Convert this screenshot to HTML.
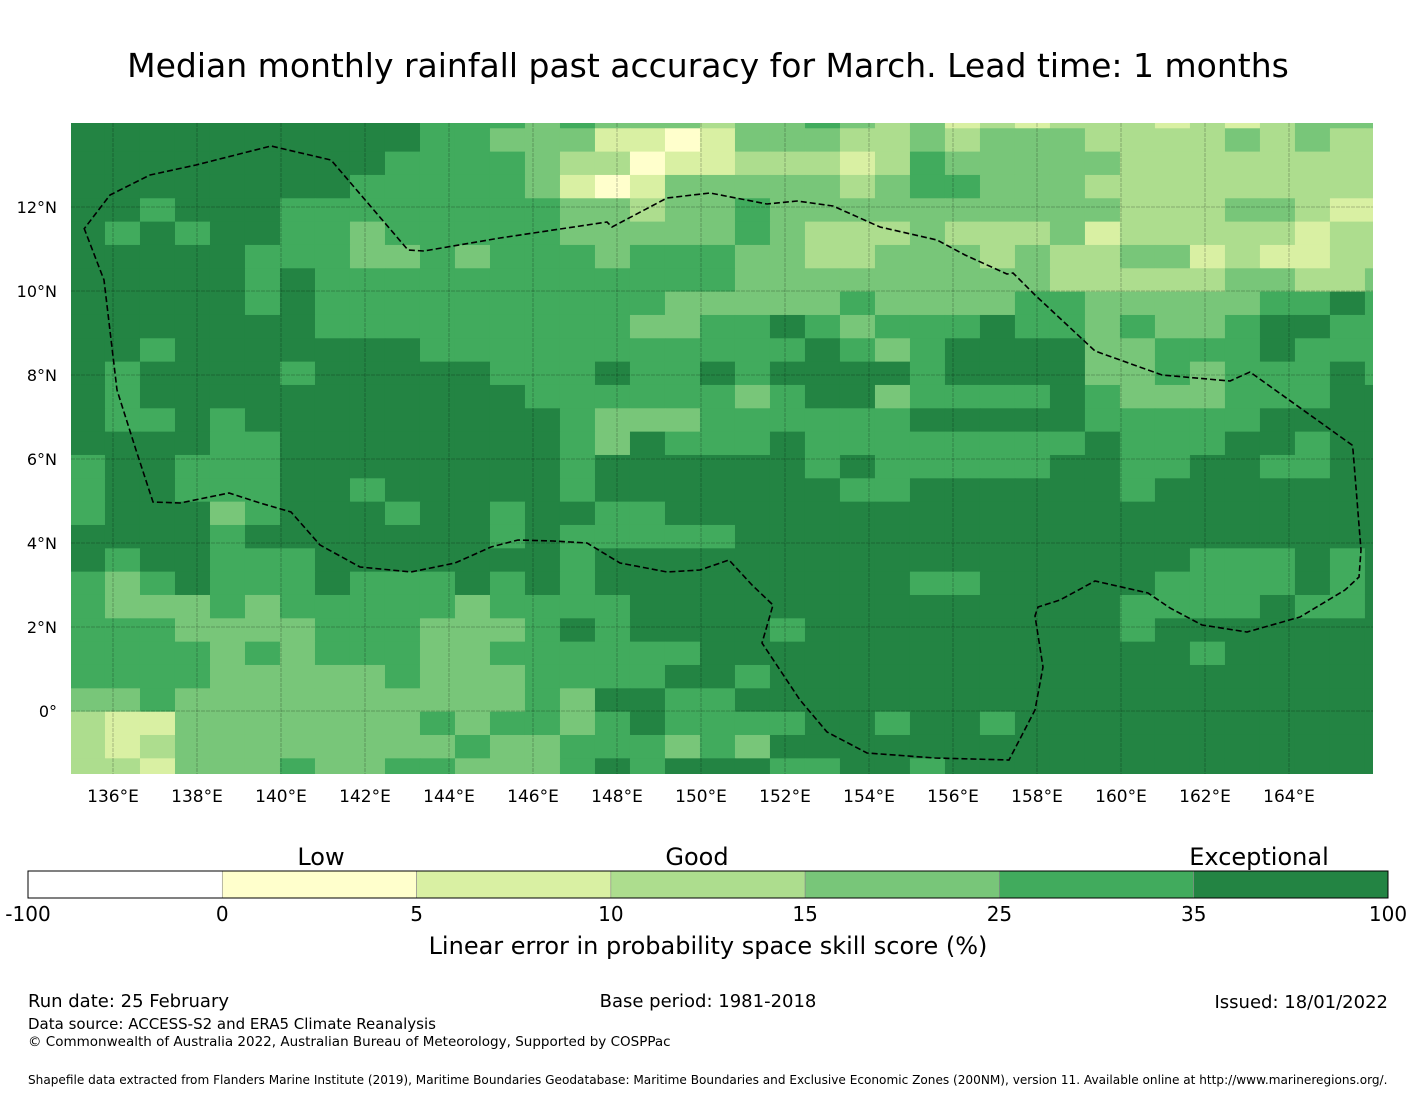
<!DOCTYPE html>
<html><head><meta charset="utf-8">
<style>
html,body{margin:0;padding:0;background:#fff;}
body{width:1416px;height:1095px;position:relative;overflow:hidden;font-family:"DejaVu Sans","Liberation Sans",sans-serif;}
svg text{font-family:"DejaVu Sans","Liberation Sans",sans-serif;}
</style></head>
<body>
<svg id="chart" width="1416" height="1095" xmlns="http://www.w3.org/2000/svg">
<text x="708" y="77" font-size="33" text-anchor="middle" fill="#000">Median monthly rainfall past accuracy for March. Lead time: 1 months</text>
<defs><clipPath id="mapclip"><rect x="71" y="123" width="1302" height="651"/></clipPath></defs>
<g id="map" clip-path="url(#mapclip)"></g>
<g id="grid" clip-path="url(#mapclip)"></g>
<polyline fill="none" stroke="#000" stroke-width="1.6" stroke-dasharray="6,3" points="84,228 104,280 117,390 136,450 153,502 180,503 229,493 260,503 291,512 320,545 360,567 411,572 455,563 491,547 518,540 553,541 587,543 620,563 667,572 700,570 729,560 752,585 773,605 762,643 800,700 827,732 867,753 935,758 1009,760 1035,710 1043,667 1035,616 1038,607 1060,600 1095,581 1148,593 1170,608 1202,625 1247,632 1300,617 1345,590 1359,577 1361,550 1353,450 1352,445 1250,372 1230,381 1162,375 1095,351 1035,295 1013,273 1007,274 965,255 937,240 880,227 833,206 797,201 767,204 710,193 667,198 612,227 607,222 500,238 424,251 408,250 331,160 271,146 196,165 150,175 110,195 84,229"/>
<g id="xticks"></g>
<g id="yticks"></g>
<text x="321" y="865" font-size="24" text-anchor="middle">Low</text>
<text x="697" y="865" font-size="24" text-anchor="middle">Good</text>
<text x="1259" y="865" font-size="24" text-anchor="middle">Exceptional</text>
<g id="cbar"></g>
<text x="708" y="954" font-size="24" text-anchor="middle">Linear error in probability space skill score (%)</text>
<text x="28" y="1007" font-size="18">Run date: 25 February</text>
<text x="708" y="1007" font-size="18" text-anchor="middle">Base period: 1981-2018</text>
<text x="1388" y="1008" font-size="18" text-anchor="end">Issued: 18/01/2022</text>
<text x="28" y="1029" font-size="15">Data source: ACCESS-S2 and ERA5 Climate Reanalysis</text>
<text x="28" y="1046" font-size="13.5">© Commonwealth of Australia 2022, Australian Bureau of Meteorology, Supported by COSPPac</text>
<text x="28" y="1084" font-size="12.1">Shapefile data extracted from Flanders Marine Institute (2019), Maritime Boundaries Geodatabase: Maritime Boundaries and Exclusive Economic Zones (200NM), version 11. Available online at http://www.marineregions.org/.</text>
</svg>
<script>
// skill level per grid cell, rows north -> south, columns west -> east
const skillRows = [
"66666666665554544434454342323332323444",
"66666666665544422124443343444333343433",
"66666666655554331223332354444433333333",
"66666666555554212444443455444333333333",
"66566655555555443445444444444433344322",
"65656655455555444445433343334233333233",
"66666555445455545554433444343344232233",
"66666565555555555554444444443333344334",
"66666565555555555444445444455444445565",
"66666665555555554455654555655454456655",
"66566666665555555555565456666445556555",
"65666656666655565565666656666445455565",
"65666666666665555554566455556544455566",
"65565666666666544455555566666555556666",
"66665566666666546555655555555655566566",
"56655566666666566666656555556655665566",
"56655566566666566666665566666656666666",
"56664566656656655666666666666666666666",
"66665666666656555556666666666666666666",
"65665556666666566666666666666666555656",
"54565556555656566666666655666665555656",
"54445455555455556666666666666655556556",
"55544445554445656666566666666656666666",
"55554545554455555566666666666666566666",
"55554444454445555665666666666666666666",
"44544444444445466556666666666666666666",
"32244444445455456555566566566666666666",
"32344444444544555454666666666666666666",
"33244454455444565666556656666666666666"
];
const levelColors = ["#ffffff","#ffffcc","#d9f0a3","#addd8e","#78c679","#41ab5d","#238443"];
const cbarTicks = ["-100","0","5","10","15","25","35","100"];
const lonTicks = [136,138,140,142,144,146,148,150,152,154,156,158,160,162,164];
const latTicks = [0,2,4,6,8,10,12];
const gridLon0 = 134.976, dLon = 0.8333, gridLatTop = 14.43, dLat = 0.5556;

const NS = "http://www.w3.org/2000/svg";
function xOf(lon){ return 71 + (lon - 135) * 42; }
function yOf(lat){ return 711 - lat * 42; }
function mk(tag, attrs, parent){ const e = document.createElementNS(NS, tag); for (const k in attrs) e.setAttribute(k, attrs[k]); parent.appendChild(e); return e; }

const map = document.getElementById("map");
skillRows.forEach((row, r) => {
  for (let c = 0; c < row.length; c++) {
    const lv = +row[c];
    const x0 = xOf(gridLon0 + c * dLon), x1 = xOf(gridLon0 + (c + 1) * dLon);
    const y0 = yOf(gridLatTop - r * dLat), y1 = yOf(gridLatTop - (r + 1) * dLat);
    const cell = mk("rect", {x: x0.toFixed(2), y: y0.toFixed(2), width: (x1 - x0 + 0.4).toFixed(2), height: (y1 - y0 + 0.4).toFixed(2), fill: levelColors[lv]}, map);
    
    
  }
});

const grid = document.getElementById("grid");
const xt = document.getElementById("xticks");
lonTicks.forEach(lon => {
  const x = xOf(lon);
  const gl = mk("line", {x1: x, x2: x, y1: 123, y2: 774, stroke: "rgba(0,0,0,0.3)", "stroke-width": 0.8, "stroke-dasharray": "4,1"}, grid);
  
  
  const t = mk("text", {x: x, y: 802, "font-size": 17, "text-anchor": "middle"}, xt);
  t.textContent = lon + "°E";
  
  
});
const yt = document.getElementById("yticks");
latTicks.forEach(lat => {
  const y = yOf(lat);
  const gl = mk("line", {x1: 71, x2: 1373, y1: y, y2: y, stroke: "rgba(0,0,0,0.3)", "stroke-width": 0.8, "stroke-dasharray": "4,1"}, grid);
  
  
  const t = mk("text", {x: 57, y: y + 6, "font-size": 16, "text-anchor": "end"}, yt);
  t.textContent = lat === 0 ? "0°" : lat + "°N";
  
  
});

const cb = document.getElementById("cbar");
const cbX0 = 28, cbX1 = 1388, cbY = 871, cbH = 27;
const segW = (cbX1 - cbX0) / levelColors.length;
levelColors.forEach((col, i) => {
  const s = mk("rect", {x: cbX0 + i * segW, y: cbY, width: segW, height: cbH, fill: col, stroke: "#888", "stroke-width": 0.6}, cb);
  
  
});
const border = mk("rect", {x: cbX0, y: cbY, width: cbX1 - cbX0, height: cbH, fill: "none", stroke: "#000", "stroke-width": 1}, cb);


cbarTicks.forEach((lab, i) => {
  const t = mk("text", {x: cbX0 + i * segW, y: 921, "font-size": 20, "text-anchor": "middle"}, cb);
  t.textContent = lab;
  
  
});
</script>
</body></html>
